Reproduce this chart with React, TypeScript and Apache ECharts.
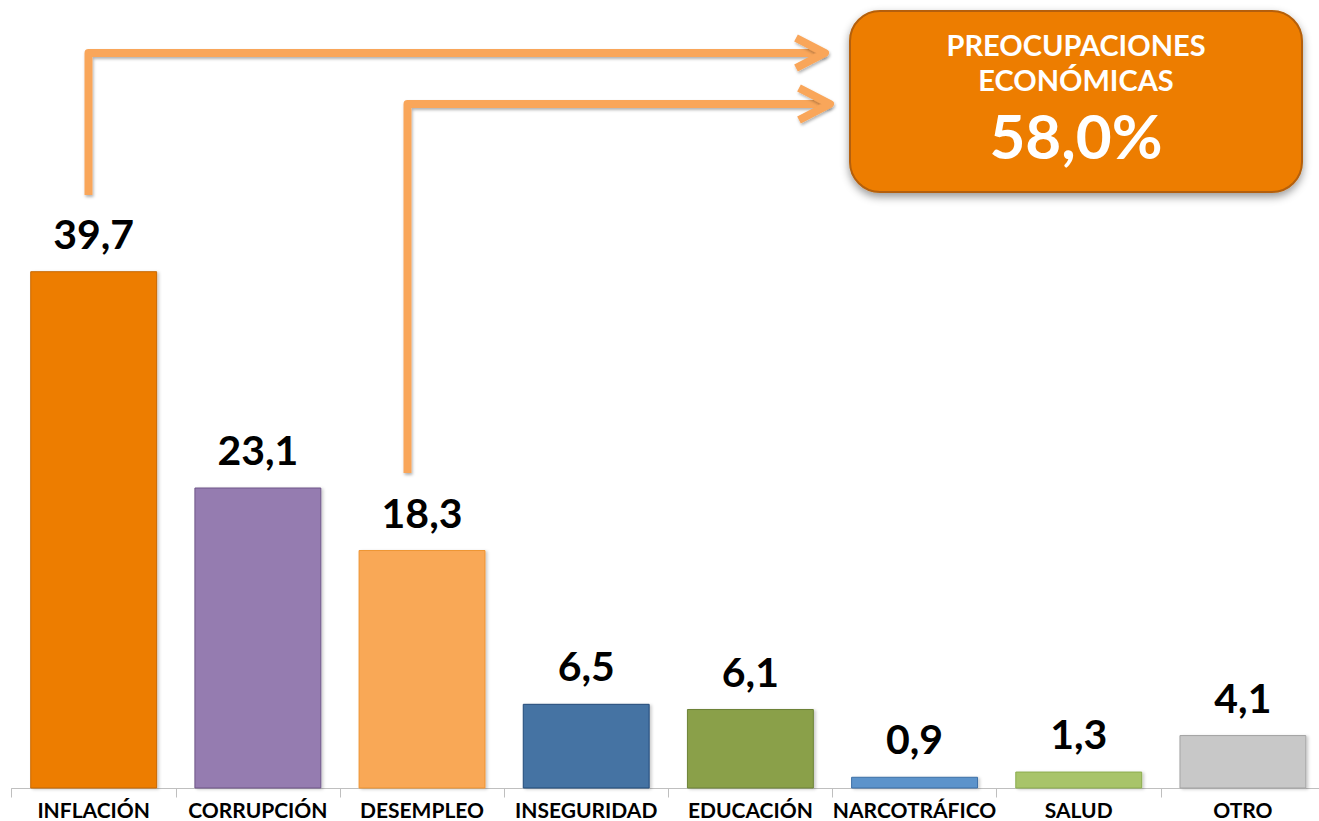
import React, { useEffect, useRef } from "react";
import * as echarts from "echarts";

const categories = [
  "INFLACIÓN",
  "CORRUPCIÓN",
  "DESEMPLEO",
  "INSEGURIDAD",
  "EDUCACIÓN",
  "NARCOTRÁFICO",
  "SALUD",
  "OTRO",
];
const values = [39.7, 23.1, 18.3, 6.5, 6.1, 0.9, 1.3, 4.1];
const barColors = [
  "#ED7D05",
  "#957BB0",
  "#F9A857",
  "#4573A3",
  "#8AA04A",
  "#5B93CB",
  "#A8C46B",
  "#C8C8C8",
];
const borderColors = [
  "#C76808",
  "#6E5788",
  "#EE9330",
  "#234A78",
  "#6C8236",
  "#3E6FA6",
  "#8CAD4E",
  "#A3A3A3",
];
const economicIdx = [0, 2];
const boxTitle = ["PREOCUPACIONES", "ECONÓMICAS"];

const fmt = (v: number) => v.toFixed(1).replace(".", ",");

export default function App() {
  const ref = useRef<HTMLDivElement>(null);

  useEffect(() => {
    if (!ref.current) return;
    const chart = echarts.init(ref.current, null, { renderer: "svg" });
    const total = economicIdx.reduce((s, i) => s + values[i], 0);
    const font = "Lato, 'Open Sans', sans-serif";
    const arrowColor = "#F9A65A";
    const arrowShadow = {
      shadowColor: "rgba(0,0,0,0.3)",
      shadowBlur: 3,
      shadowOffsetX: 1,
      shadowOffsetY: 2,
    };
    const arrowStyle = {
      stroke: arrowColor,
      lineWidth: 8,
      fill: "none",
      lineJoin: "round",
      lineCap: "butt",
      ...arrowShadow,
    };
    const boxText = (text: string, y: number, size: number) => ({
      type: "text",
      silent: true,
      x: 1076,
      y,
      style: {
        text,
        fill: "#ffffff",
        font: `bold ${size}px ${font}`,
        align: "center",
        verticalAlign: "middle",
      },
    });

    chart.setOption({
      animation: false,
      backgroundColor: "#ffffff",
      grid: { left: 11.6, right: 0, top: 6.7, bottom: 32.5, containLabel: false },
      xAxis: {
        type: "category",
        data: categories,
        axisLine: { show: true, lineStyle: { color: "#BFBFBF", width: 1 } },
        axisTick: { show: true, length: 9, lineStyle: { color: "#BFBFBF" } },
        axisLabel: {
          interval: 0,
          margin: 11,
          color: "#000000",
          fontFamily: font,
          fontWeight: "bold",
          fontSize: 21,
          lineHeight: 20,
        },
      },
      yAxis: {
        type: "value",
        min: 0,
        max: 60,
        show: false,
        splitLine: { show: false },
      },
      series: [
        {
          type: "bar",
          barWidth: "77.3%",
          data: values.map((v, i) => ({
            value: v,
            itemStyle: {
              color: barColors[i],
              borderColor: borderColors[i],
              borderWidth: 1,
              shadowColor: "rgba(0,0,0,0.2)",
              shadowBlur: 3,
              shadowOffsetX: 2,
              shadowOffsetY: 1,
            },
          })),
          label: {
            show: true,
            position: "top",
            distance: 18,
            formatter: (p: any) => fmt(p.value),
            color: "#000000",
            fontFamily: font,
            fontWeight: "bold",
            fontSize: 41,
            lineHeight: 40,
          },
        },
      ],
      graphic: [
        {
          type: "polyline",
          silent: true,
          shape: { points: [[88.5, 195], [88.5, 53], [825, 53]] },
          style: arrowStyle,
        },
        {
          type: "polyline",
          silent: true,
          shape: { points: [[796, 38], [825, 53], [796, 68]] },
          style: arrowStyle,
        },
        {
          type: "polyline",
          silent: true,
          shape: { points: [[407.5, 473], [407.5, 104], [830, 104]] },
          style: arrowStyle,
        },
        {
          type: "polyline",
          silent: true,
          shape: { points: [[799, 88], [830, 104], [799, 120]] },
          style: arrowStyle,
        },
        {
          type: "rect",
          silent: true,
          shape: { x: 850, y: 11, width: 452, height: 181, r: 30 },
          style: {
            fill: "#ED7D05",
            stroke: "#B45F08",
            lineWidth: 2,
            shadowColor: "rgba(0,0,0,0.4)",
            shadowBlur: 8,
            shadowOffsetX: 0,
            shadowOffsetY: 4,
          },
        },
        boxText(boxTitle[0], 44.5, 29),
        boxText(boxTitle[1], 79.5, 29),
        boxText(fmt(total) + "%", 134.5, 62),
      ],
    });

    return () => chart.dispose();
  }, []);

  return (
    <div
      style={{
        position: "fixed",
        left: 0,
        top: 0,
        width: 1319,
        height: 821,
        overflow: "hidden",
        background: "#ffffff",
      }}
    >
      <div ref={ref} style={{ width: 1325, height: 821 }} />
    </div>
  );
}
